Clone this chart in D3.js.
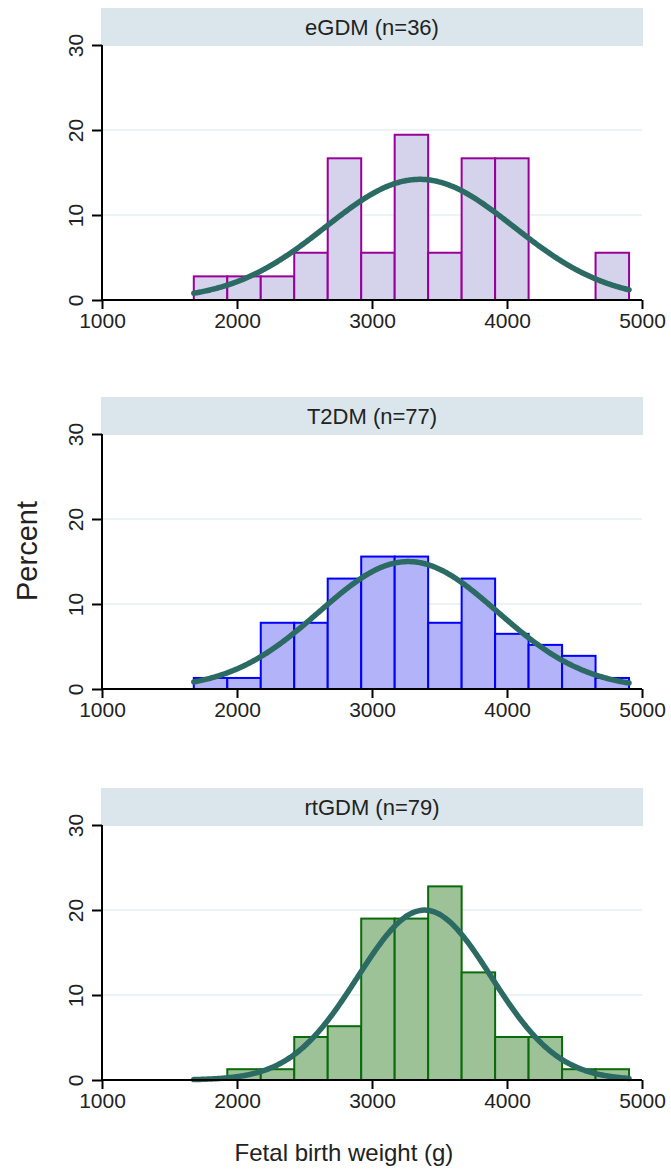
<!DOCTYPE html>
<html><head><meta charset="utf-8">
<script src="https://cdn.jsdelivr.net/npm/d3@7"></script>
<style>
html,body{margin:0;padding:0;background:#fff;}
svg{display:block;font-family:"Liberation Sans",Arial,Helvetica,sans-serif;}
</style></head>
<body>
<svg id="chart" width="671" height="1170"></svg>
<script>
// ---- data ----
const groups = ["eGDM", "T2DM", "rtGDM"];
const groupN = [36, 77, 79];
const binEdges = [1680, 1928, 2176, 2424, 2672, 2920, 3168, 3416, 3664, 3912, 4160, 4408, 4656, 4904];
const eGDMPercent  = [2.78, 2.78, 2.78, 5.56, 16.67, 5.56, 19.44, 5.56, 16.67, 16.67, 0, 0, 5.56];
const T2DMPercent  = [1.30, 1.30, 7.79, 7.79, 12.99, 15.58, 15.58, 7.79, 12.99, 6.49, 5.19, 3.90, 1.30];
const rtGDMPercent = [0, 1.27, 1.27, 5.06, 6.33, 18.99, 18.99, 22.78, 12.66, 5.06, 5.06, 1.27, 1.27];
const normalMean = [3354, 3269, 3389];
const normalSD   = [697, 660, 495];
const xTicks = [1000, 2000, 3000, 4000, 5000];
const yTicks = [0, 10, 20, 30];
const xTitle = "Fetal birth weight (g)";
const yTitle = "Percent";

const percentSeries = [eGDMPercent, T2DMPercent, rtGDMPercent];
const fills   = ["#d5d3ec", "#b3b3f9", "#9dc297"];
const strokes = ["#990099", "#0000ff", "#0b6b0b"];
const curveColor = "#2c6b63";

// ---- layout ----
const svg = d3.select("#chart");
const left = 102, right = 642;
const plotTops = [45, 434, 825];
const plotH = 255;
const stripH = 38;

const x = d3.scaleLinear().domain([1000, 5000]).range([left, right]);

groups.forEach((g, gi) => {
  const top = plotTops[gi];
  const y = d3.scaleLinear().domain([0, 30]).range([top + plotH, top]);
  const panel = svg.append("g");

  // strip
  panel.append("rect")
    .attr("x", left - 1).attr("y", top - stripH + 1)
    .attr("width", right - left + 2).attr("height", stripH)
    .attr("fill", "#dae6eb");
  panel.append("text")
    .attr("x", (left + right) / 2).attr("y", top - stripH / 2 + 9)
    .attr("text-anchor", "middle").attr("font-size", 22).attr("fill", "#222")
    .text(`${g} (n=${groupN[gi]})`);

  // grid
  panel.selectAll(".grid").data(yTicks.filter(t => t > 0 && t < 30)).enter()
    .append("line")
    .attr("x1", left).attr("x2", right)
    .attr("y1", d => y(d)).attr("y2", d => y(d))
    .attr("stroke", "#e6eff2").attr("stroke-width", 1.5);

  // bars
  const bins = percentSeries[gi].map((v, i) => ({x0: binEdges[i], x1: binEdges[i + 1], v}));
  panel.selectAll(".bar").data(bins.filter(b => b.v > 0)).enter()
    .append("rect")
    .attr("x", d => x(d.x0)).attr("width", d => x(d.x1) - x(d.x0))
    .attr("y", d => y(d.v)).attr("height", d => y(0) - y(d.v))
    .attr("fill", fills[gi]).attr("stroke", strokes[gi]).attr("stroke-width", 2);

  // normal curve
  const bw = binEdges[1] - binEdges[0];
  const mu = normalMean[gi], sd = normalSD[gi];
  const xs = d3.range(binEdges[0], binEdges[binEdges.length - 1] + 1, 8);
  const line = d3.line()
    .x(d => x(d))
    .y(d => y(100 * bw * Math.exp(-0.5 * ((d - mu) / sd) ** 2) / (sd * Math.sqrt(2 * Math.PI))))
    .curve(d3.curveBasis);
  panel.append("path").datum(xs)
    .attr("d", line).attr("fill", "none")
    .attr("stroke", curveColor).attr("stroke-width", 5.5).attr("stroke-linecap", "round");

  // axes
  const xAxis = d3.axisBottom(x).tickValues(xTicks).tickSize(9).tickPadding(4).tickFormat(d3.format("d"));
  const gx = panel.append("g").attr("transform", `translate(0,${y(0)})`).call(xAxis);
  gx.select(".domain").attr("stroke", "#000").attr("stroke-width", 2).attr("d", `M${left},0H${right}`);
  gx.selectAll(".tick line").attr("stroke", "#000").attr("stroke-width", 2);
  gx.selectAll(".tick text").attr("font-size", 21).attr("fill", "#222")
    .attr("font-family", "'Liberation Sans',Arial,sans-serif");

  const yAxis = d3.axisLeft(y).tickValues(yTicks).tickSize(10).tickFormat(d3.format("d"));
  const gy = panel.append("g").attr("transform", `translate(${left},0)`).call(yAxis);
  gy.select(".domain").attr("stroke", "#000").attr("stroke-width", 2).attr("d", `M0,${y(0)}V${y(30)}`);
  gy.selectAll(".tick line").attr("stroke", "#000").attr("stroke-width", 2);
  gy.selectAll(".tick text")
    .attr("x", null).attr("dy", null)
    .attr("transform", "translate(-19,0) rotate(-90)")
    .attr("text-anchor", "middle").attr("y", 0)
    .attr("font-size", 21).attr("fill", "#222")
    .attr("font-family", "'Liberation Sans',Arial,sans-serif");
});

// axis titles
svg.append("text")
  .attr("transform", "translate(37,551) rotate(-90)")
  .attr("text-anchor", "middle").attr("font-size", 29).attr("fill", "#222")
  .text(yTitle);
svg.append("text")
  .attr("x", 344).attr("y", 1161)
  .attr("text-anchor", "middle").attr("font-size", 24).attr("fill", "#222")
  .text(xTitle);
</script>
</body></html>
